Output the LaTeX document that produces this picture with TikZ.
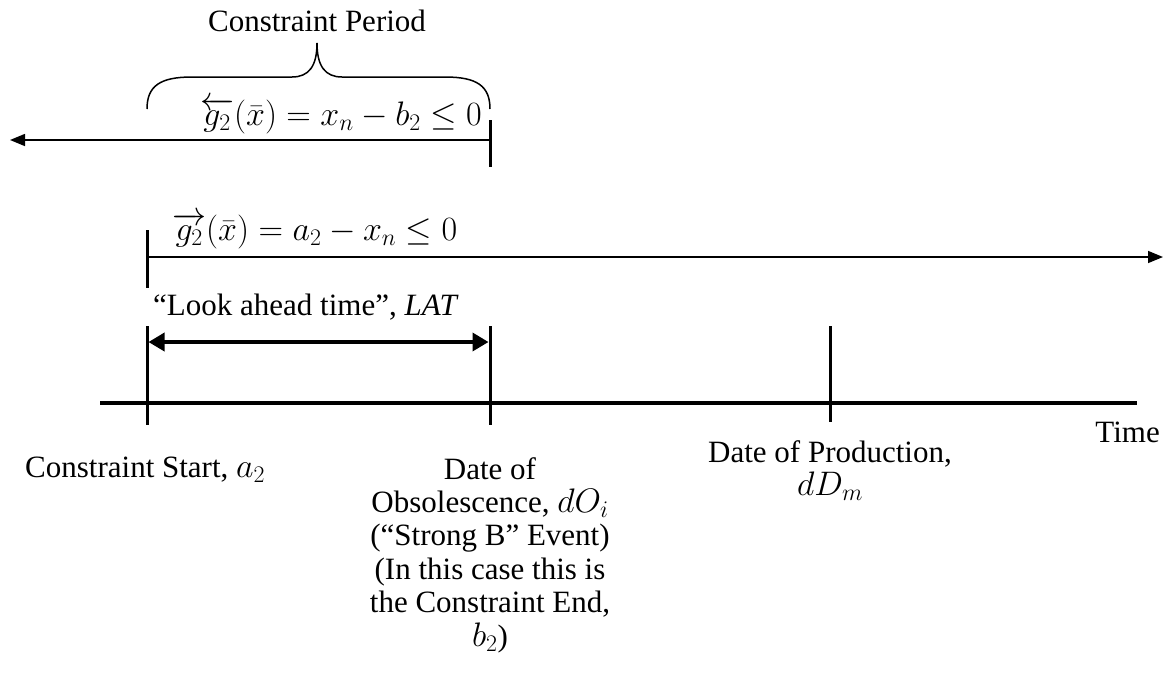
\RequirePackage{fix-cm}
\documentclass[tikz,border=0pt]{standalone}
\usepackage{fontspec}
\setmainfont{Liberation Serif}
\usepackage{amsmath}
\usepackage{amssymb}
\usetikzlibrary{arrows.meta}

\newcommand{\bigmath}[1]{{\fontsize{34}{33.4}\selectfont$#1$}}

\begin{document}
\begin{tikzpicture}[
  x=1pt, y=-1pt,
  every node/.style={font=\fontsize{31}{33.4}\selectfont, inner sep=0pt},
  axisline/.style={line width=4pt},
  tickline/.style={line width=3pt},
  rangearrow/.style={line width=1.5pt, -{Triangle[length=15pt, width=12pt]}},
  latarrow/.style={line width=3.5pt, {Triangle[length=16pt, width=18pt]}-{Triangle[length=16pt, width=18pt]}},
  bracepath/.style={line width=1.5pt},
]
\useasboundingbox (0,0) rectangle (1164,672);

% Time axis
\coordinate (axisL) at (100,403);
\coordinate (axisR) at (1137,403);
\draw[axisline] (axisL) -- (axisR);

% Event ticks on the axis
\coordinate (a2top) at (147,326);
\coordinate (a2bot) at (147,425);
\coordinate (b2top) at (490,326);
\coordinate (b2bot) at (490,425);
\coordinate (dDtop) at (830,326);
\coordinate (dDbot) at (830,422);
\draw[tickline] (a2top) -- (a2bot);
\draw[tickline] (b2top) -- (b2bot);
\draw[tickline] (dDtop) -- (dDbot);

% Look ahead time
\coordinate (latL) at (148.5,342);
\coordinate (latR) at (488.5,342);
\draw[latarrow] (latL) -- (latR);
\node[anchor=base west] (lat) at (153,315) {``Look ahead time'', \textit{LAT}};

% Forward constraint
\coordinate (fwdtop) at (147,230);
\coordinate (fwdbot) at (147,288);
\coordinate (fwdS) at (147,257);
\coordinate (fwdE) at (1163,257);
\draw[tickline] (fwdtop) -- (fwdbot);
\draw[rangearrow] (fwdS) -- (fwdE);
\node[anchor=base west] (gfwd) at (172,240) {\bigmath{\overrightarrow{g_2}(\bar{x}) = a_2 - x_n \leq 0}};

% Backward constraint
\coordinate (bwdtop) at (490,120);
\coordinate (bwdbot) at (490,167);
\coordinate (bwdS) at (490,140);
\coordinate (bwdE) at (10,140);
\draw[tickline] (bwdtop) -- (bwdbot);
\draw[rangearrow] (bwdS) -- (bwdE);
\node[anchor=base east] (gback) at (482,125) {\bigmath{\overleftarrow{g_2}(\bar{x}) = x_n - b_2 \leq 0}};

% Constraint period brace
\coordinate (braceL) at (147,109);
\coordinate (braceR) at (490,109);
\coordinate (braceTip) at (317,43);
\draw[bracepath] (braceL) .. controls (147,86) and (160,77) .. (192,77) -- (292,77)
  .. controls (309,77) and (317,66) .. (braceTip)
  .. controls (317,66) and (325,77) .. (342,77) -- (445,77)
  .. controls (477,77) and (490,86) .. (braceR);
\node[anchor=base] (period) at (317,31) {Constraint Period};

% Axis labels
\node[anchor=base west] (start) at (25,477) {Constraint Start, \bigmath{a_2}};
\node[anchor=north, align=center] (obs) at (490,457) {Date of\\Obsolescence, \bigmath{dO_i}\\(``Strong B'' Event)\\(In this case this is\\the Constraint End,\\\bigmath{b_2})};
\node[anchor=north, align=center] (prod) at (830,440) {Date of Production,\\\bigmath{dD_m}};
\node[anchor=base east] (time) at (1160,442) {Time};

\end{tikzpicture}
\end{document}
